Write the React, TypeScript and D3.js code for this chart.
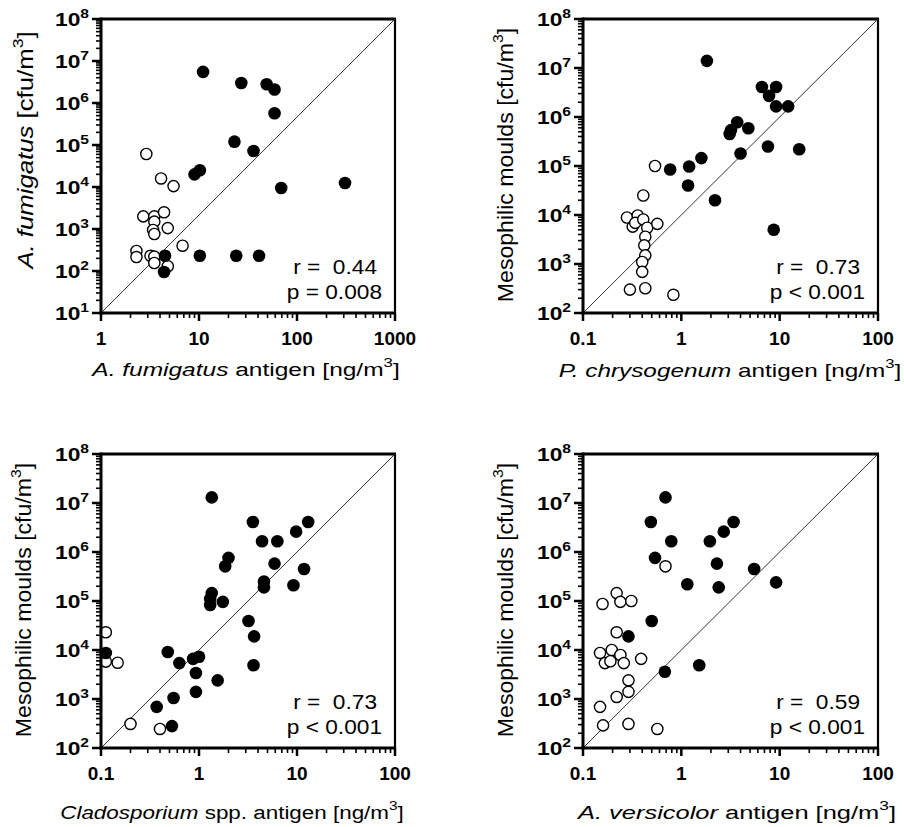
import React from "react"
import * as d3 from "d3"

// values: [antigen ng/m3, cfu/m3]
const fumClosed: [number, number][] = [
  [11, 5.5e6], [27, 3.0e6], [49, 2.8e6], [59, 2.1e6], [59, 5.7e5], [23, 1.2e5], [36, 7.2e4],
  [9, 2.0e4], [10.2, 2.5e4], [69, 9.5e3], [309, 1.25e4],
  [4.5, 230], [10.2, 230], [24, 230], [41, 230], [4.4, 95],
]
const fumOpen: [number, number][] = [
  [2.9, 6.1e4], [4.1, 1.6e4], [5.5, 1.05e4],
  [2.7, 2.0e3], [3.5, 2.0e3], [3.5, 1.5e3], [4.4, 2.5e3], [4.8, 1.05e3], [3.4, 950], [3.5, 760],
  [6.8, 400], [2.3, 300], [2.3, 215], [3.2, 230], [3.5, 220], [3.5, 155], [4.8, 130],
]

const chrClosed: [number, number][] = [
  [1.82, 1.4e7], [6.6, 4.1e6], [9.2, 4.1e6], [7.8, 2.7e6], [9.2, 1.65e6], [12.2, 1.65e6],
  [3.7, 7.8e5], [3.2, 5.4e5], [3.1, 4.5e5], [4.8, 5.9e5], [7.6, 2.5e5], [15.8, 2.2e5],
  [4.0, 1.8e5], [1.6, 1.45e5], [1.2, 9.8e4], [0.77, 8.5e4], [1.17, 4.0e4], [2.2, 2.0e4], [8.7, 5.0e3],
]
const chrOpen: [number, number][] = [
  [0.54, 1.0e5], [0.41, 2.5e4], [0.28, 8.9e3], [0.36, 9.8e3], [0.32, 5.8e3], [0.34, 6.9e3],
  [0.41, 8.1e3], [0.45, 5.5e3], [0.57, 6.6e3], [0.43, 3.6e3], [0.42, 2.4e3], [0.43, 1.5e3],
  [0.4, 1.1e3], [0.4, 690], [0.3, 300], [0.43, 320], [0.83, 235],
]

const claClosed: [number, number][] = [
  [1.35, 1.3e7], [3.55, 4.1e6], [13, 4.1e6], [9.8, 2.6e6], [4.4, 1.66e6], [6.3, 1.66e6],
  [2.0, 7.6e5], [1.85, 5.1e5], [5.9, 5.8e5], [11.8, 4.5e5], [4.6, 2.5e5], [4.6, 1.9e5],
  [9.2, 2.1e5], [1.35, 1.45e5], [1.3, 1.1e5], [1.3, 8.3e4], [1.75, 9.6e4], [3.2, 3.9e4],
  [3.65, 1.9e4], [3.6, 4.9e3], [0.112, 8.7e3], [0.48, 9.1e3], [0.63, 5.4e3], [0.87, 6.6e3],
  [1.0, 7.3e3], [0.93, 3.4e3], [1.55, 2.4e3], [0.93, 1.4e3], [0.55, 1.05e3], [0.37, 690], [0.53, 280],
]
const claOpen: [number, number][] = [
  [0.112, 2.3e4], [0.112, 5.8e3], [0.148, 5.5e3], [0.2, 310], [0.4, 245],
]

const verClosed: [number, number][] = [
  [0.69, 1.3e7], [0.49, 4.1e6], [0.79, 1.66e6], [1.95, 1.66e6], [2.7, 2.6e6], [3.4, 4.1e6],
  [0.54, 7.6e5], [2.3, 5.8e5], [5.5, 4.5e5], [1.15, 2.2e5], [9.2, 2.4e5], [2.4, 1.9e5],
  [0.5, 3.9e4], [0.29, 1.9e4], [0.68, 3.6e3], [1.52, 4.9e3],
]
const verOpen: [number, number][] = [
  [0.69, 5.1e5], [0.158, 8.7e4], [0.22, 1.45e5], [0.24, 9.6e4], [0.31, 1.0e5], [0.22, 2.3e4],
  [0.149, 8.7e3], [0.196, 1.0e4], [0.167, 5.4e3], [0.19, 5.9e3], [0.24, 7.9e3], [0.26, 5.4e3],
  [0.39, 6.6e3], [0.29, 2.4e3], [0.29, 1.4e3], [0.22, 1.1e3], [0.149, 690], [0.16, 290],
  [0.29, 310], [0.57, 245],
]

const rValues = ["0.44", "0.73", "0.73", "0.59"]
const pValues = ["= 0.008", "< 0.001", "< 0.001", "< 0.001"]

const font = "Arial, 'Liberation Sans', Helvetica, sans-serif"

function decadeTicks(lo: number, hi: number) {
  const major: number[] = []
  const minor: number[] = []
  for (let e = Math.round(Math.log10(lo)); e <= Math.round(Math.log10(hi)); e++) {
    const p = Math.pow(10, e)
    major.push(p)
    if (p < hi) for (let k = 2; k <= 9; k++) minor.push(k * p)
  }
  return { major, minor }
}

function fmtX(v: number) {
  return v < 1 ? String(Math.round(v * 10) / 10) : String(Math.round(v))
}

// text stretched along its reading direction (the figure's lettering is wide)
function Wide(props: any) {
  const { x, y, sx = 1, rot = 0, children, ...rest } = props
  return (
    <g transform={`translate(${x},${y}) rotate(${rot}) scale(${sx},1)`}>
      <text x={0} y={0} {...rest}>{children}</text>
    </g>
  )
}

function Panel(props: any) {
  const { left, top, w, h, xDomain, yDomain, closed, open, idx, xItalic, xRest, yItalic, yRest,
    yLabelX, yLabelY, yLabelS, xTitleX, xTitleY, xTitleS } = props
  const x = d3.scaleLog().domain(xDomain).range([left, left + w])
  const y = d3.scaleLog().domain(yDomain).range([top + h, top])
  const xt = decadeTicks(xDomain[0], xDomain[1])
  const yt = decadeTicks(yDomain[0], yDomain[1])
  const bottom = top + h
  const right = left + w
  const r = 6.3
  return (
    <g fontFamily={font}>
      {/* frame */}
      <line x1={left} x2={right + 1} y1={top} y2={top} stroke="#000" strokeWidth={3} />
      <line x1={right} x2={right} y1={top} y2={bottom} stroke="#000" strokeWidth={2.2} />
      {/* identity diagonal */}
      <line x1={x(xDomain[0])} y1={y(yDomain[0])} x2={x(xDomain[1])} y2={y(yDomain[1])} stroke="#333" strokeWidth={1} />
      {/* points */}
      {open.map((d: [number, number], i: number) => (
        <circle key={"o" + i} cx={x(d[0])} cy={y(d[1])} r={r - 0.7} fill="#fff" stroke="#000" strokeWidth={1.4} />
      ))}
      {closed.map((d: [number, number], i: number) => (
        <circle key={"c" + i} cx={x(d[0])} cy={y(d[1])} r={r} fill="#000" />
      ))}
      {/* y axis */}
      <line x1={left} x2={left} y1={top - 1.5} y2={bottom + 1.5} stroke="#000" strokeWidth={3} />
      {yt.minor.map((v, i) => (
        <line key={"ym" + i} x1={left - 5} x2={left} y1={y(v)} y2={y(v)} stroke="#000" strokeWidth={1.6} />
      ))}
      {yt.major.map((v, i) => (
        <g key={"yM" + i}>
          <line x1={left - 9} x2={left} y1={y(v)} y2={y(v)} stroke="#000" strokeWidth={2.5} />
          <Wide x={left - 12} y={y(v) + 6.5} sx={1.2} textAnchor="end" fontWeight="bold" fontSize={19}>
            10<tspan fontSize={13} dy={-8}>{Math.round(Math.log10(v))}</tspan>
          </Wide>
        </g>
      ))}
      {/* x axis */}
      <line x1={left - 1.5} x2={right + 1} y1={bottom} y2={bottom} stroke="#000" strokeWidth={3} />
      {xt.minor.map((v, i) => (
        <line key={"xm" + i} x1={x(v)} x2={x(v)} y1={bottom} y2={bottom + 5} stroke="#000" strokeWidth={1.6} />
      ))}
      {xt.major.map((v, i) => (
        <g key={"xM" + i}>
          <line x1={x(v)} x2={x(v)} y1={bottom} y2={bottom + 8} stroke="#000" strokeWidth={2.5} />
          <text x={x(v)} y={bottom + 32} textAnchor="middle" fontWeight="bold" fontSize={19}>{fmtX(v)}</text>
        </g>
      ))}
      {/* stats */}
      <Wide x={right - 18} y={bottom - 39} sx={1.08} textAnchor="end" fontSize={21}>{"r =\u00a0\u00a0" + rValues[idx]}</Wide>
      <Wide x={right - 13} y={bottom - 14} sx={1.08} textAnchor="end" fontSize={21}>{"p " + pValues[idx]}</Wide>
      {/* axis titles */}
      <Wide x={xTitleX} y={xTitleY} sx={xTitleS} textAnchor="middle" fontSize={19}>
        <tspan fontStyle="italic">{xItalic}</tspan>{xRest}
        <tspan fontSize={13} dy={-9}>3</tspan><tspan dy={9}>]</tspan>
      </Wide>
      <Wide x={yLabelX} y={yLabelY} rot={-90} sx={yLabelS} textAnchor="middle" fontSize={22}>
        <tspan fontStyle="italic">{yItalic}</tspan>{yRest}
        <tspan fontSize={15} dy={-10}>3</tspan><tspan dy={10}>]</tspan>
      </Wide>
    </g>
  )
}

export default function App() {
  return (
    <svg width={904} height={827} style={{ position: "absolute", left: 0, top: 0, background: "#fff" }}>
      <rect width={904} height={827} fill="#fff" />
      <Panel left={101} top={19} w={294} h={294} xDomain={[1, 1000]} yDomain={[10, 1e8]}
        closed={fumClosed} open={fumOpen} idx={0}
        xItalic="A. fumigatus" xRest=" antigen [ng/m" xTitleX={246} xTitleY={376} xTitleS={1.29}
        yItalic="A. fumigatus" yRest=" [cfu/m" yLabelX={33} yLabelY={150} yLabelS={1.17} />
      <Panel left={583} top={19} w={295} h={294} xDomain={[0.1, 100]} yDomain={[100, 1e8]}
        closed={chrClosed} open={chrOpen} idx={1}
        xItalic="P. chrysogenum" xRest=" antigen [ng/m" xTitleX={730} xTitleY={377} xTitleS={1.28}
        yItalic="" yRest="Mesophilic moulds [cfu/m" yLabelX={513} yLabelY={165} yLabelS={1.05} />
      <Panel left={101} top={454} w={294} h={294} xDomain={[0.1, 100]} yDomain={[100, 1e8]}
        closed={claClosed} open={claOpen} idx={2}
        xItalic="Cladosporium" xRest=" spp. antigen [ng/m" xTitleX={232} xTitleY={819} xTitleS={1.18}
        yItalic="" yRest="Mesophilic moulds [cfu/m" yLabelX={31} yLabelY={600} yLabelS={1.05} />
      <Panel left={583} top={454} w={295} h={294} xDomain={[0.1, 100]} yDomain={[100, 1e8]}
        closed={verClosed} open={verOpen} idx={3}
        xItalic="A. versicolor" xRest=" antigen [ng/m" xTitleX={737} xTitleY={819} xTitleS={1.34}
        yItalic="" yRest="Mesophilic moulds [cfu/m" yLabelX={513} yLabelY={600} yLabelS={1.05} />
    </svg>
  )
}
